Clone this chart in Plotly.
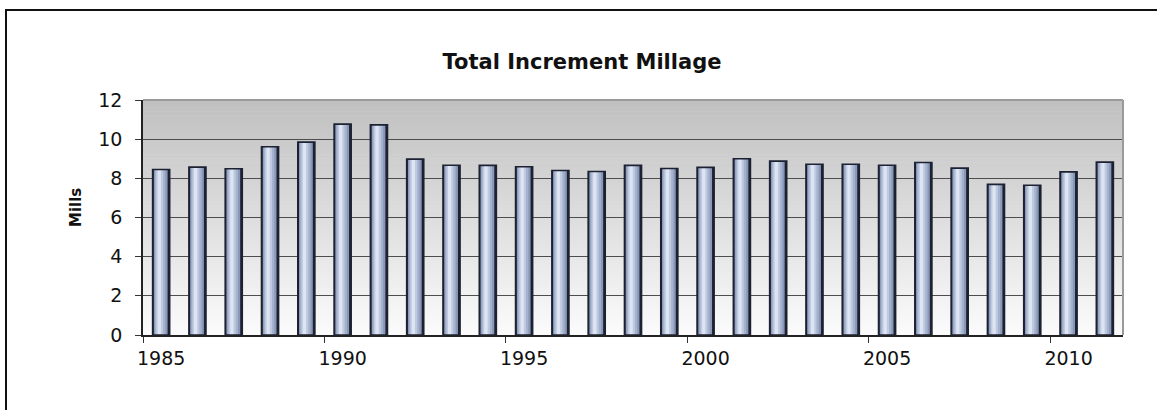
import plotly.graph_objects as go

# ---- data ----
years = [1985, 1986, 1987, 1988, 1989, 1990, 1991, 1992, 1993, 1994,
         1995, 1996, 1997, 1998, 1999, 2000, 2001, 2002, 2003, 2004,
         2005, 2006, 2007, 2008, 2009, 2010, 2011]
mills = [8.45, 8.57, 8.49, 9.61, 9.85, 10.77, 10.73, 8.98, 8.67, 8.66,
         8.59, 8.40, 8.35, 8.66, 8.50, 8.56, 9.00, 8.88, 8.72, 8.72,
         8.67, 8.81, 8.52, 7.69, 7.65, 8.33, 8.83]
x_tick_years = [1985, 1990, 1995, 2000, 2005, 2010]
x_tick_text = ["1985", "1990", "1995", "2000", "2005", "2010"]
y_ticks = [0, 2, 4, 6, 8, 10, 12]
title_text = "Total Increment Millage"
y_title = "Mills"

W, H = 1157, 410
L, R, T, B = 143, 34, 100, 75
pw, ph = W - L - R, H - T - B

fig = go.Figure()

# layered bars to imitate the metallic gradient of the original
layers = [
    (0.47, 0.000, "#1d2232"),
    (0.38, -0.012, "#8a98b7"),
    (0.29, -0.028, "#a5b2ce"),
    (0.19, -0.042, "#bfcae1"),
    (0.09, -0.052, "#dde4f2"),
]
for w, shift, col in layers:
    fig.add_trace(go.Bar(
        x=years, y=mills, width=w, offset=-w / 2 + shift,
        marker=dict(color=col, line=dict(width=0)),
        showlegend=False, hoverinfo="skip"))
# outline on top
fig.add_trace(go.Bar(
    x=years, y=mills, width=0.47, offset=-0.235,
    marker=dict(color="rgba(0,0,0,0)", line=dict(width=1.6, color="#1d2232")),
    showlegend=False, name="Mills"))

# background gradient of the plot area (grey top -> white bottom)
shapes = []
N = 60
top_c, bot_c = 192, 251
for i in range(N):
    y0 = i / N
    y1 = (i + 1) / N
    t = (y0 + y1) / 2
    c = int(round(bot_c + (top_c - bot_c) * t))
    shapes.append(dict(type="rect", xref="paper", yref="paper",
                       x0=0, x1=1, y0=y0, y1=y1 + 0.002,
                       fillcolor=f"rgb({c},{c},{c})", line=dict(width=0),
                       layer="below"))
# plot frame: top and right in grey
shapes.append(dict(type="line", xref="paper", yref="paper", x0=0, x1=1, y0=1, y1=1,
                   line=dict(color="#9a9a9a", width=2), layer="above"))
shapes.append(dict(type="line", xref="paper", yref="paper", x0=1, x1=1, y0=0, y1=1,
                   line=dict(color="#9a9a9a", width=2), layer="above"))
# outer black border of the picture
shapes.append(dict(type="rect", xref="paper", yref="paper",
                   x0=(6 - L) / pw, x1=(W + 10 - L) / pw,
                   y0=(H - B - (H + 10)) / ph, y1=1 + (T - 10) / ph,
                   line=dict(color="#111111", width=2), fillcolor="rgba(0,0,0,0)",
                   layer="above"))

fig.update_layout(
    width=W, height=H,
    margin=dict(l=L, r=R, t=T, b=B, pad=0),
    paper_bgcolor="white",
    plot_bgcolor="rgba(0,0,0,0)",
    barmode="overlay",
    shapes=shapes,
    title=dict(text=f"<b>{title_text}</b>", x=582 / W, xanchor="center",
               y=1 - 62 / H, yanchor="middle",
               font=dict(family="DejaVu Sans", size=21, color="#111111")),
    annotations=[dict(text=f"<b>{y_title}</b>", xref="paper", yref="paper",
                      x=(76 - L) / pw, y=(H - B - 208) / ph, textangle=-90,
                      showarrow=False, xanchor="center", yanchor="middle",
                      font=dict(family="DejaVu Sans", size=15, color="#111111"))],
    font=dict(family="DejaVu Sans", size=19, color="#111111"),
)

fig.update_xaxes(
    range=[years[0] - 0.5, years[-1] + 0.5],
    tickmode="array", tickvals=x_tick_years, ticktext=x_tick_text,
    ticks="", showgrid=False, zeroline=False,
    showline=True, linecolor="#222222", linewidth=1.5,
    ticklabelstandoff=5,
    tickfont=dict(family="DejaVu Sans", size=19, color="#111111"),
    minor=dict(ticks="outside", tickmode="array",
               tickvals=[y - 0.5 for y in x_tick_years],
               ticklen=6, tickcolor="#333333", tickwidth=1, showgrid=False),
)
fig.update_yaxes(
    range=[0, 12], tickmode="array", tickvals=y_ticks,
    ticks="outside", ticklen=6, tickcolor="#333333", tickwidth=1,
    showgrid=True, gridcolor="#4d4d4d", gridwidth=1,
    zeroline=False, showline=True, linecolor="#222222", linewidth=1.5,
    ticklabelstandoff=9,
    tickfont=dict(family="DejaVu Sans", size=19, color="#111111"),
)

fig.write_html("out.html", config={"displayModeBar": False},
               post_script="document.body.style.margin='0px';")
